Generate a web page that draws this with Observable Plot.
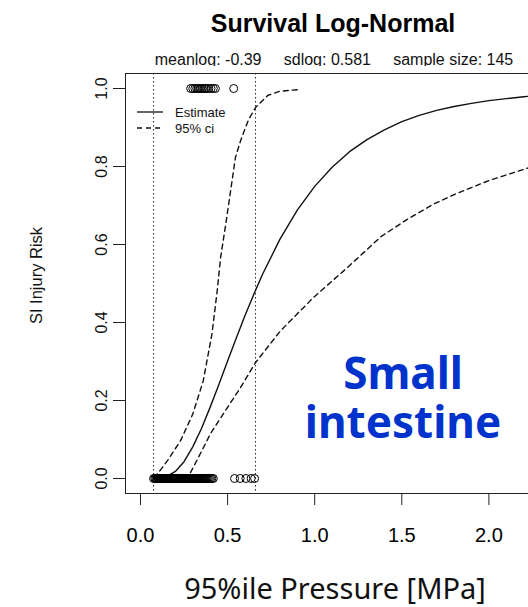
<!DOCTYPE html>
<html><head><meta charset="utf-8">
<script src="https://cdn.jsdelivr.net/npm/d3@7"></script>
<script src="https://cdn.jsdelivr.net/npm/@observablehq/plot@0.6"></script>
<style>
html,body{margin:0;padding:0;background:#fff;overflow:hidden}
#page{position:relative;width:528px;height:607px;font-family:"Liberation Sans",Arial,sans-serif;color:#000}
#title{position:absolute;left:333px;top:11px;transform:translateX(-50%);font-size:25px;font-weight:bold;line-height:25px;white-space:nowrap}
#subtitle{position:absolute;left:334px;top:51.5px;transform:translateX(-50%);font-size:16px;line-height:16px;white-space:pre;color:#111}
#chart{position:absolute;left:0;top:66px}
#xlabel{position:absolute;left:335px;top:573px;transform:translateX(-50%);font-family:"Noto Sans",sans-serif;font-size:29px;line-height:29px;white-space:nowrap;color:#111}
#note{position:absolute;left:403px;top:347.5px;transform:translateX(-50%);font-family:"Noto Sans",sans-serif;font-weight:bold;font-size:44px;line-height:49px;color:#0033cc;white-space:nowrap;text-align:center}
</style></head>
<body>
<div id="page">
  <div id="title">Survival Log-Normal</div>
  <div id="subtitle">meanlog: -0.39     sdlog: 0.581     sample size: 145</div>
  <div id="chart"></div>
  <div id="xlabel">95%ile Pressure [MPa]</div>
  <div id="note">Small<br>intestine</div>
</div>
<script>
// ---- data ----
const xTicks = [0, 0.5, 1.0, 1.5, 2.0];
const yTicks = [0, 0.2, 0.4, 0.6, 0.8, 1.0];

// fitted estimate (solid)
const estX = [0.075,0.1,0.15,0.2,0.25,0.3,0.35,0.4,0.45,0.5,0.55,0.6,0.65,0.7,0.8,0.9,1.0,1.1,1.2,1.3,1.4,1.5,1.6,1.7,1.8,1.9,2.0,2.1,2.2,2.3];
const estY = [0.000,0.001,0.005,0.018,0.043,0.081,0.128,0.183,0.241,0.301,0.360,0.418,0.472,0.523,0.613,0.688,0.749,0.798,0.838,0.869,0.894,0.915,0.931,0.944,0.954,0.962,0.969,0.974,0.979,0.982];

// 95% ci upper (left dashed)
const upX = [0.075,0.10,0.155,0.23,0.30,0.36,0.41,0.44,0.46,0.49,0.52,0.545,0.575,0.62,0.66,0.73,0.80,0.90];
const upY = [0.003,0.013,0.046,0.097,0.165,0.25,0.37,0.48,0.567,0.654,0.746,0.823,0.867,0.92,0.951,0.982,0.993,0.997];

// 95% ci lower (right dashed)
const loX = [0.287,0.344,0.402,0.477,0.574,0.66,0.804,0.993,1.188,1.38,1.533,1.68,1.8,2.0,2.23];
const loY = [0.015,0.064,0.115,0.167,0.233,0.297,0.379,0.464,0.541,0.62,0.665,0.703,0.728,0.764,0.797];

// observations: injury = 0
const obs0 = [0.075,0.082,0.088,0.093,0.097,0.101,0.105,0.108,0.112,0.115,0.118,0.121,0.124,0.127,0.130,0.133,0.135,0.138,0.141,0.143,0.146,0.148,0.151,0.153,0.156,0.158,0.160,0.163,0.165,0.167,0.170,0.172,0.174,0.177,0.179,0.181,0.184,0.186,0.188,0.191,0.193,0.195,0.198,0.200,0.202,0.205,0.207,0.209,0.212,0.214,0.217,0.219,0.221,0.224,0.226,0.229,0.231,0.234,0.236,0.239,0.241,0.244,0.246,0.249,0.251,0.254,0.257,0.259,0.262,0.265,0.267,0.270,0.273,0.276,0.278,0.281,0.284,0.287,0.290,0.293,0.296,0.299,0.302,0.305,0.308,0.311,0.314,0.318,0.321,0.324,0.328,0.331,0.335,0.338,0.342,0.346,0.350,0.354,0.358,0.362,0.367,0.372,0.377,0.383,0.389,0.396,0.403,0.410,0.418,0.540,0.572,0.605,0.635,0.655];
// observations: injury = 1
const obs1 = [0.288,0.300,0.312,0.322,0.330,0.338,0.346,0.355,0.363,0.372,0.380,0.392,0.405,0.418,0.430,0.535];

// min / max of the data (dotted verticals)
const dataRange = [0.075, 0.66];

const xDomain = [-0.0861, 2.2273];
const yDomain = [-0.0385, 1.0385];

// ---- build ----
const est = estX.map((x, i) => ({x, y: estY[i]}));
const up = upX.map((x, i) => ({x, y: upY[i]}));
const lo = loX.map((x, i) => ({x, y: loY[i]}));
const pts = obs0.map(x => ({x, y: 0})).concat(obs1.map(x => ({x, y: 1})));
const f1 = d3.format(".1f");

const chart = Plot.plot({
  width: 528, height: 481,
  marginLeft: 125, marginRight: 0, marginTop: 7, marginBottom: 54,
  x: {domain: xDomain},
  y: {domain: yDomain},
  style: {fontFamily: "Liberation Sans, Arial, sans-serif", color: "#000", background: "#fff", overflow: "visible"},
  marks: [
    Plot.ruleY(yDomain, {stroke: "#222"}),
    Plot.ruleX([xDomain[0]], {stroke: "#222"}),
    Plot.ruleX(dataRange, {stroke: "#222", strokeDasharray: "1.5,2.5"}),
    Plot.line(est, {x: "x", y: "y", stroke: "#111", strokeWidth: 1.4}),
    Plot.line(up, {x: "x", y: "y", stroke: "#111", strokeWidth: 1.4, strokeDasharray: "5,4"}),
    Plot.line(lo, {x: "x", y: "y", stroke: "#111", strokeWidth: 1.4, strokeDasharray: "5,4"}),
    Plot.dot(pts, {x: "x", y: "y", r: 4, stroke: "#000", strokeWidth: 1}),
    Plot.axisX(xTicks, {tickSize: 12, tickPadding: 22, fontSize: 20, tickFormat: f1, label: null, stroke: "#222"}),
    Plot.axisY(yTicks, {tickSize: 12, fill: "none", label: null, stroke: "#222"}),
    Plot.text(yTicks, {y: d => d, text: f1, frameAnchor: "left", textAnchor: "middle", rotate: -90, dx: -24, fontSize: 16, fill: "#111"}),
    Plot.text(["SI Injury Risk"], {text: d => d, frameAnchor: "left", textAnchor: "middle", rotate: -90, dx: -89, dy: -8, fontSize: 16.5, fill: "#111"})
  ]
});
document.getElementById("chart").appendChild(chart);

// legend (top-left inside the frame)
const svg = d3.select(chart);
const lg = svg.append("g").attr("font-size", 13).attr("fill", "#111").attr("text-anchor", "start");
lg.append("line").attr("x1", 137).attr("x2", 163).attr("y1", 46).attr("y2", 46).attr("stroke", "#111").attr("stroke-width", 1.3);
lg.append("line").attr("x1", 137).attr("x2", 163).attr("y1", 62).attr("y2", 62).attr("stroke", "#111").attr("stroke-width", 1.3).attr("stroke-dasharray", "5,4");
lg.append("text").attr("x", 175).attr("y", 46).attr("dy", "0.35em").text("Estimate");
lg.append("text").attr("x", 175).attr("y", 62).attr("dy", "0.35em").text("95% ci");
</script>
</body></html>
